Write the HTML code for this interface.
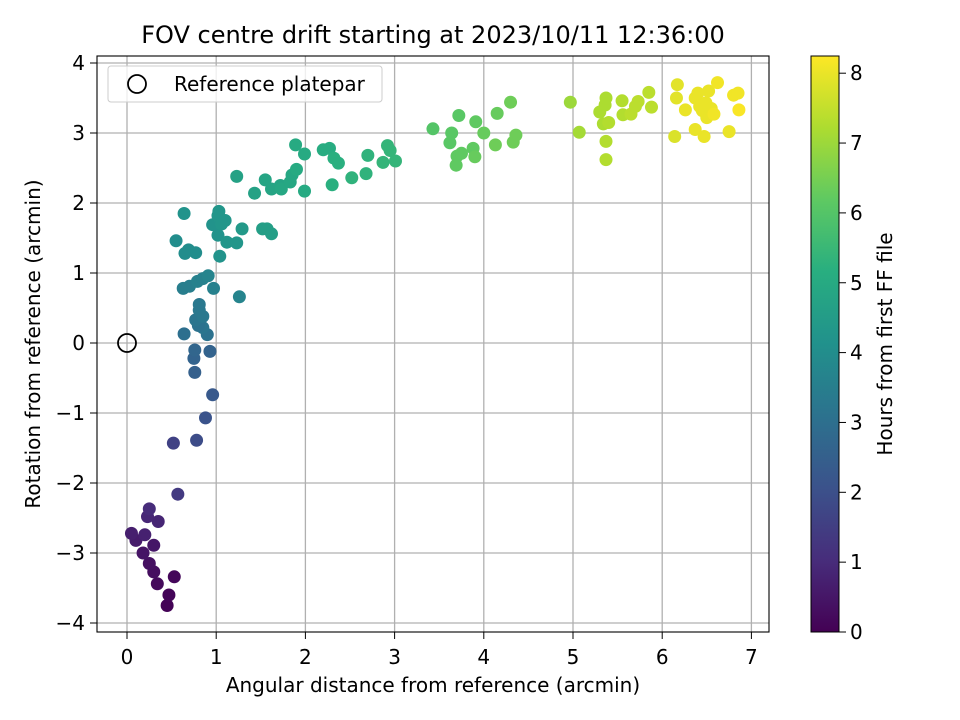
<!DOCTYPE html>
<html><head><meta charset="utf-8"><style>
body{margin:0;background:#fff;}
svg{display:block;font-family:"DejaVu Sans","Liberation Sans",sans-serif;}
</style></head><body>
<svg id="chart" width="960" height="720" viewBox="0 0 960 720">
<defs>
<linearGradient id="vir" x1="0" y1="1" x2="0" y2="0">
<stop offset="0" stop-color="#440154"/><stop offset="0.125" stop-color="#472d7b"/><stop offset="0.25" stop-color="#3b528b"/><stop offset="0.375" stop-color="#2c728e"/><stop offset="0.5" stop-color="#21918c"/><stop offset="0.625" stop-color="#28ae80"/><stop offset="0.75" stop-color="#5ec962"/><stop offset="0.875" stop-color="#addc30"/><stop offset="1" stop-color="#fde725"/>
</linearGradient>
</defs>
<text x="433" y="43" font-size="24" text-anchor="middle">FOV centre drift starting at 2023/10/11 12:36:00</text>
<g id="grid"></g>
<g id="points"></g>
<rect x="97" y="56" width="672" height="576" fill="none" stroke="#000" stroke-width="1.1"/>
<g id="xticks"></g><g id="yticks"></g>
<text x="433" y="692" font-size="20" text-anchor="middle">Angular distance from reference (arcmin)</text>
<text transform="translate(40,344) rotate(-90)" font-size="20" text-anchor="middle">Rotation from reference (arcmin)</text>
<g>
<rect x="108" y="66" width="274" height="36" rx="3" fill="#fff" fill-opacity="0.8" stroke="#ccc"/>
<circle cx="137" cy="84" r="9" fill="none" stroke="#000" stroke-width="1.8"/>
<text x="174" y="91" font-size="20">Reference platepar</text>
</g>
<rect x="811" y="56" width="28" height="576" fill="url(#vir)" stroke="#000" stroke-width="1"/>
<g id="cticks"></g>
<text transform="translate(892,344) rotate(-90)" font-size="20" text-anchor="middle">Hours from first FF file</text>
</svg>
<script>
const xs=[0.45,0.47,0.53,0.34,0.30,0.25,0.18,0.30,0.10,0.05,0.20,0.35,0.23,0.25,0.57,0.52,0.78,0.88,0.96,0.76,0.75,0.76,0.93,0.64,0.90,0.85,0.80,0.77,0.85,0.81,0.81,0.63,0.70,0.79,0.85,0.91,0.97,1.26,0.65,0.69,0.77,0.55,1.04,1.02,1.12,1.23,1.29,0.64,0.96,1.02,1.03,1.10,1.06,1.52,1.57,1.62,1.23,1.43,1.55,1.62,1.72,1.73,1.83,1.85,1.90,1.99,1.99,1.89,2.20,2.27,2.32,2.37,2.30,2.52,2.68,2.70,2.87,2.92,2.95,3.01,3.43,3.62,3.64,3.70,3.69,3.72,3.75,3.88,3.90,3.91,4.00,4.13,4.15,4.30,4.33,4.36,4.97,5.07,5.30,5.34,5.36,5.37,5.37,5.37,5.40,5.55,5.56,5.65,5.70,5.73,5.85,5.88,6.14,6.16,6.17,6.26,6.37,6.37,6.40,6.42,6.45,6.47,6.49,6.50,6.52,6.55,6.58,6.62,6.75,6.80,6.85,6.86];
const ys=[-3.75,-3.6,-3.34,-3.44,-3.27,-3.15,-3.0,-2.89,-2.82,-2.72,-2.74,-2.55,-2.48,-2.37,-2.16,-1.43,-1.39,-1.07,-0.74,-0.42,-0.22,-0.10,-0.12,0.13,0.12,0.22,0.25,0.33,0.38,0.47,0.55,0.78,0.81,0.88,0.92,0.96,0.78,0.66,1.28,1.33,1.29,1.46,1.24,1.54,1.44,1.43,1.63,1.85,1.69,1.82,1.88,1.75,1.70,1.63,1.63,1.56,2.38,2.14,2.33,2.20,2.25,2.20,2.30,2.40,2.48,2.17,2.70,2.83,2.76,2.78,2.64,2.57,2.26,2.36,2.42,2.68,2.58,2.82,2.75,2.60,3.06,2.86,3.00,2.67,2.54,3.25,2.71,2.78,2.66,3.16,3.00,2.83,3.28,3.44,2.87,2.97,3.44,3.01,3.30,3.13,3.40,3.50,2.88,2.62,3.15,3.46,3.26,3.27,3.38,3.45,3.58,3.37,2.95,3.50,3.69,3.33,3.05,3.50,3.57,3.38,3.32,2.95,3.43,3.22,3.60,3.35,3.27,3.72,3.02,3.54,3.57,3.33];
const hours=[0.05,0.1,0.15,0.2,0.3,0.35,0.45,0.5,0.6,0.7,0.75,0.85,0.9,1.0,1.4,1.6,1.9,2.1,2.3,2.5,2.6,2.7,2.6,3.0,3.1,3.2,3.1,3.2,3.3,3.3,3.3,3.5,3.5,3.6,3.6,3.7,3.6,3.7,4.0,4.0,4.0,4.0,4.2,4.2,4.3,4.3,4.4,4.2,4.2,4.3,4.3,4.3,4.3,4.6,4.6,4.6,4.7,4.7,4.8,4.8,4.8,4.9,4.9,4.9,5.0,5.0,5.0,5.0,5.1,5.1,5.2,5.2,5.2,5.3,5.3,5.3,5.4,5.4,5.4,5.4,6.0,6.1,6.1,6.2,6.2,6.1,6.2,6.2,6.3,6.2,6.3,6.4,6.3,6.4,6.4,6.4,7.0,7.1,7.2,7.2,7.2,7.2,7.3,7.3,7.3,7.3,7.3,7.4,7.4,7.4,7.4,7.4,7.8,7.9,7.9,8.0,8.0,8.0,8.0,8.0,8.0,8.0,8.0,8.0,8.0,8.0,8.1,8.1,8.0,8.1,8.1,8.2];
const xTicks=[0,1,2,3,4,5,6,7];
const yTicks=[4,3,2,1,0,-1,-2,-3,-4];
const cTicks=[0,1,2,3,4,5,6,7,8];
const refPoint=[0,0];
const NS='http://www.w3.org/2000/svg';
const X=v=>127+v*89.2, Y=v=>343-v*70, C=v=>632-v*69.85;
const vir=[[68,1,84],[71,45,123],[59,82,139],[44,114,142],[33,145,140],[40,174,128],[94,201,98],[173,220,48],[253,231,37]];
function col(h){let t=Math.max(0,Math.min(1,h/8.25))*8;let i=Math.min(7,Math.floor(t)),f=t-i;const a=vir[i],b=vir[i+1];return 'rgb('+a.map((v,k)=>Math.round(v+(b[k]-v)*f)).join(',')+')';}
function mk(tag,at,parent){const e=document.createElementNS(NS,tag);for(const k in at)e.setAttribute(k,at[k]);document.getElementById(parent).appendChild(e);return e;}
xTicks.forEach(t=>{
 const g=mk('line',{x1:X(t),x2:X(t),y1:56,y2:632,stroke:'#b0b0b0','stroke-width':1.3},'grid');
 
 
 const l=mk('line',{x1:X(t),x2:X(t),y1:632,y2:639,stroke:'#000'},'xticks');
 
 
 const tx=mk('text',{x:X(t),y:664,'font-size':20,'text-anchor':'middle'},'xticks');tx.textContent=t;
 
 
});
yTicks.forEach(t=>{
 const g=mk('line',{x1:97,x2:769,y1:Y(t),y2:Y(t),stroke:'#b0b0b0','stroke-width':1.3},'grid');
 
 
 const l=mk('line',{x1:90,x2:97,y1:Y(t),y2:Y(t),stroke:'#000'},'yticks');
 
 
 const tx=mk('text',{x:85,y:Y(t)+7,'font-size':20,'text-anchor':'end'},'yticks');tx.textContent=(t<0?'\u2212'+(-t):t);
 
 
});
cTicks.forEach(t=>{
 const l=mk('line',{x1:839,x2:846,y1:C(t),y2:C(t),stroke:'#000'},'cticks');
 
 
 const tx=mk('text',{x:850,y:C(t)+7,'font-size':20},'cticks');tx.textContent=t;
 
 
});
xs.forEach((x,i)=>{
 const c=mk('circle',{cx:X(x),cy:Y(ys[i]),r:6.5,fill:col(hours[i])},'points');
 
 
});
const r=mk('circle',{cx:X(refPoint[0]),cy:Y(refPoint[1]),r:9,fill:'none',stroke:'#000','stroke-width':1.8},'points');


</script>
</body></html>
